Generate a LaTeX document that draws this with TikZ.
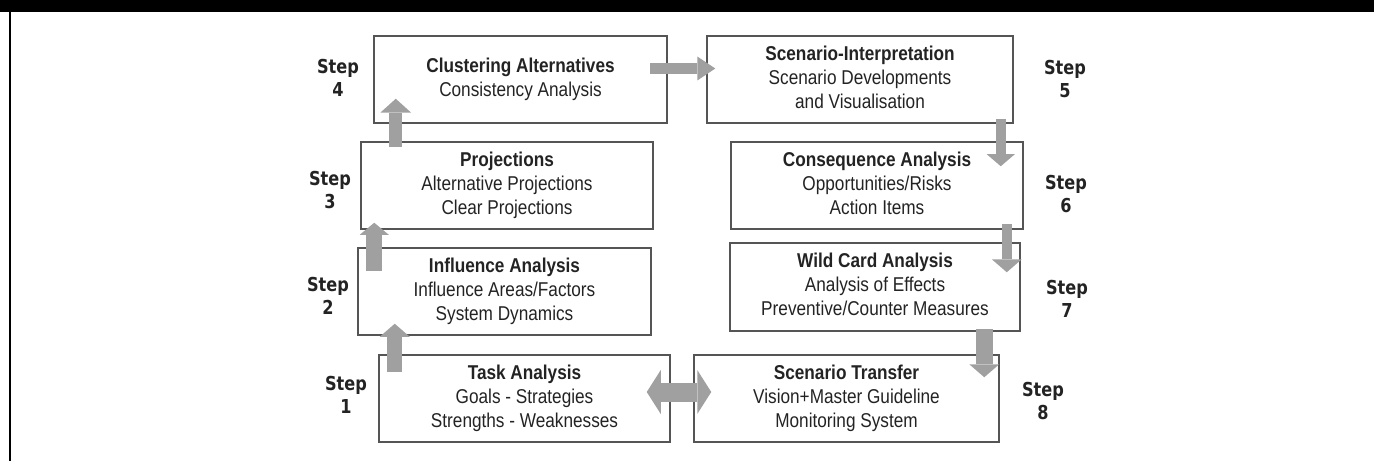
\documentclass[tikz,border=0pt]{standalone}
\usepackage{fontspec}
\usepackage{graphicx}
\setmainfont{Liberation Sans}
\newfontfamily\stepfont{DejaVu Sans}
\usetikzlibrary{arrows.meta}

\definecolor{boxline}{RGB}{85,85,85}
\definecolor{arrowfill}{RGB}{160,160,160}
\definecolor{textgray}{RGB}{35,35,35}

% condensed, centred lines
\newcommand{\narrowtext}[2][0.86]{\scalebox{#1}[1]{\begin{tabular}{@{}c@{}}#2\end{tabular}}}

\tikzset{
    stage/.style={draw=boxline, line width=0.75pt, minimum height=43.5pt, inner sep=0pt,
        text=textgray, font=\fontsize{10}{12}\selectfont},
    steplabel/.style={text=textgray, inner sep=0pt, font=\stepfont\bfseries\fontsize{9.6}{11.5}\selectfont},
    flow/.style n args={3}{draw=arrowfill, line width=#1,
        -{Triangle[width=#2, length=#3, line width=0pt]}},
}

\begin{document}
\begin{tikzpicture}[x=0.5pt, y=0.5pt]
        \useasboundingbox (0,0) rectangle (1374,461);
        \fill[black] (0,449) rectangle (1374,461);
        \draw[line width=1pt] (10,0) -- (10,449);

        % left column, bottom to top
        \node[stage, minimum width=145.5pt] (task) at (524.5,62.5)
            {\narrowtext{\textbf{Task Analysis}\\Goals - Strategies\\Strengths - Weaknesses}};
        \node[stage, minimum width=146.5pt] (influence) at (504.5,169.5)
            {\narrowtext{\textbf{Influence Analysis}\\Influence Areas/Factors\\System Dynamics}};
        \node[stage, minimum width=146pt] (proj) at (507,275.5)
            {\narrowtext{\textbf{Projections}\\Alternative Projections\\Clear Projections}};
        \node[stage, minimum width=146.5pt] (clust) at (520.5,381.5)
            {\narrowtext{\textbf{Clustering Alternatives}\\Consistency Analysis}};

        % right column, top to bottom
        \node[stage, minimum width=153pt] (interp) at (860,381.5)
            {\narrowtext{\textbf{Scenario-Interpretation}\\Scenario Developments\\and Visualisation}};
        \node[stage, minimum width=146pt] (conseq) at (877,275.5)
            {\narrowtext{\textbf{Consequence Analysis}\\Opportunities/Risks\\Action Items}};
        \node[stage, minimum width=145pt, minimum height=44pt] (wild) at (875,174)
            {\narrowtext{\textbf{Wild Card Analysis}\\Analysis of Effects\\Preventive/Counter Measures}};
        \node[stage, minimum width=152.5pt] (transfer) at (846.5,62.5)
            {\narrowtext{\textbf{Scenario Transfer}\\Vision+Master Guideline\\Monitoring System}};

        % step numbers
        \node[steplabel] (s1) at (346,63.5) {\narrowtext[0.84]{Step\\1}};
        \node[steplabel] (s2) at (328,162.5) {\narrowtext[0.84]{Step\\2}};
        \node[steplabel] (s3) at (330,269) {\narrowtext[0.84]{Step\\3}};
        \node[steplabel] (s4) at (338,380.5) {\narrowtext[0.84]{Step\\4}};
        \node[steplabel] (s5) at (1065,380) {\narrowtext[0.84]{Step\\5}};
        \node[steplabel] (s6) at (1066,265) {\narrowtext[0.84]{Step\\6}};
        \node[steplabel] (s7) at (1067,159.5) {\narrowtext[0.84]{Step\\7}};
        \node[steplabel] (s8) at (1043,58) {\narrowtext[0.84]{Step\\8}};

        % block arrows between the stages
        \draw[flow={7.5pt}{15pt}{6.5pt}] ([shift={(16.5,-18)}]task.north west) -- ([shift={(37.5,12)}]influence.south west);
        \draw[flow={8pt}{14.5pt}{6pt}] ([shift={(17,-24)}]influence.north west) -- ([shift={(14,7)}]proj.south west);
        \draw[flow={6.5pt}{15.5pt}{7pt}] ([shift={(35.5,-6)}]proj.north west) -- ([shift={(22.5,25)}]clust.south west);
        \draw[flow={5.5pt}{12pt}{9pt}] ([shift={(-18,11)}]clust.east) -- ([shift={(9,11)}]interp.west);
        \draw[flow={5pt}{14pt}{6pt}] ([shift={(-13,5)}]interp.south east) -- ([shift={(-23,-25)}]conseq.north east);
        \draw[flow={5pt}{15pt}{6.5pt}] ([shift={(-17,6)}]conseq.south east) -- ([shift={(-14,-30)}]wild.north east);
        \draw[flow={8.5pt}{15pt}{6.5pt}] ([shift={(-36.5,3)}]wild.south east) -- ([shift={(-15.5,-23)}]transfer.north east);
        \draw[draw=arrowfill, line width=9.5pt,
            {Triangle[width=22pt, length=7pt, line width=0pt]}-{Triangle[width=22pt, length=7pt, line width=0pt]}]
            ([shift={(-24,6.5)}]task.east) -- ([shift={(18,6.5)}]transfer.west);
    \end{tikzpicture}
\end{document}
